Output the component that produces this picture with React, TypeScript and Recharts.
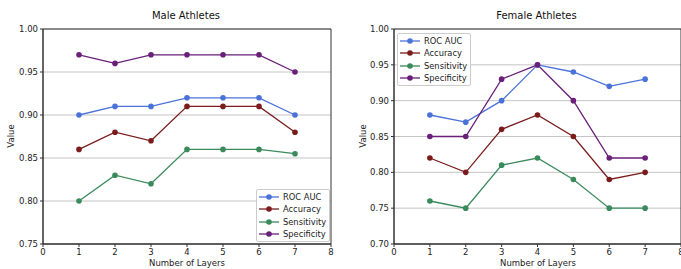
import { CartesianGrid, Line, LineChart, ReferenceArea, XAxis, YAxis } from "recharts";

const layers = [1, 2, 3, 4, 5, 6, 7];
const xTicks = [0, 1, 2, 3, 4, 5, 6, 7, 8];

const maleRoc = [0.9, 0.91, 0.91, 0.92, 0.92, 0.92, 0.9];
const maleAcc = [0.86, 0.88, 0.87, 0.91, 0.91, 0.91, 0.88];
const maleSens = [0.8, 0.83, 0.82, 0.86, 0.86, 0.86, 0.855];
const maleSpec = [0.97, 0.96, 0.97, 0.97, 0.97, 0.97, 0.95];
const maleYTicks = [0.75, 0.8, 0.85, 0.9, 0.95, 1.0];

const femaleRoc = [0.88, 0.87, 0.9, 0.95, 0.94, 0.92, 0.93];
const femaleAcc = [0.82, 0.8, 0.86, 0.88, 0.85, 0.79, 0.8];
const femaleSens = [0.76, 0.75, 0.81, 0.82, 0.79, 0.75, 0.75];
const femaleSpec = [0.85, 0.85, 0.93, 0.95, 0.9, 0.82, 0.82];
const femaleYTicks = [0.7, 0.75, 0.8, 0.85, 0.9, 0.95, 1.0];

const SERIES = [
  { key: "roc", name: "ROC AUC", color: "#4a72d9" },
  { key: "acc", name: "Accuracy", color: "#7b1c1c" },
  { key: "sens", name: "Sensitivity", color: "#3a8a5c" },
  { key: "spec", name: "Specificity", color: "#6a1f78" },
];

const FONT = "DejaVu Sans";
const SPINE = "#333";
const TICK = { fontSize: 8.5, fill: "#222", fontFamily: FONT };

function build(roc: number[], acc: number[], sens: number[], spec: number[]) {
  return layers.map((layer, i) => ({ layer, roc: roc[i], acc: acc[i], sens: sens[i], spec: spec[i] }));
}

function LegendBox({ left, top }: { left: number; top: number }) {
  return (
    <div
      style={{
        position: "absolute",
        left,
        top,
        border: "1px solid #ccc",
        borderRadius: 2,
        background: "rgba(255,255,255,0.85)",
        padding: "1px 3px 1px 2px",
        fontFamily: FONT,
        fontSize: 8.3,
        color: "#222",
      }}
    >
      {SERIES.map((s) => (
        <div key={s.key} style={{ display: "flex", alignItems: "center", height: 12.3 }}>
          <svg width={20} height={8} style={{ marginRight: 4 }}>
            <line x1={0} y1={4} x2={20} y2={4} stroke={s.color} strokeWidth={1.3} />
            <circle cx={10} cy={4} r={2.8} fill={s.color} />
          </svg>
          {s.name}
        </div>
      ))}
    </div>
  );
}

function Panel({
  title,
  data,
  yTicks,
  yAxisWidth,
  width,
  right,
}: {
  title: string;
  data: Record<string, number>[];
  yTicks: number[];
  yAxisWidth: number;
  width: number;
  right: number;
}) {
  return (
    <LineChart width={width} height={269} data={data} margin={{ top: 29, right, left: 0, bottom: 0 }}>
      <CartesianGrid vertical={false} stroke="#c4c4c4" strokeWidth={1} />
      <XAxis
        dataKey="layer"
        type="number"
        domain={[0, 8]}
        ticks={xTicks}
        tick={TICK}
        tickSize={3}
        height={25}
        stroke={SPINE}
        interval={0}
      />
      <YAxis
        type="number"
        domain={[yTicks[0], 1]}
        ticks={yTicks}
        tickFormatter={(v: number) => v.toFixed(2)}
        tick={TICK}
        tickSize={3}
        width={yAxisWidth}
        stroke={SPINE}
        interval={0}
      />
      <ReferenceArea x1={0} x2={8} y1={yTicks[0]} y2={1} fill="none" stroke={SPINE} strokeWidth={1} ifOverflow="visible" />
      <text x={(yAxisWidth + width - right) / 2 - 1} y={19} textAnchor="middle" fontFamily={FONT} fontSize={10} fill="#111">
        {title}
      </text>
      {SERIES.map((s) => (
        <Line
          key={s.key}
          dataKey={s.key}
          name={s.name}
          stroke={s.color}
          strokeWidth={1.3}
          dot={{ r: 2.8, fill: s.color, stroke: s.color, strokeWidth: 0 }}
          isAnimationActive={false}
        />
      ))}
    </LineChart>
  );
}

export default function App() {
  const label: React.CSSProperties = { position: "absolute", fontFamily: FONT, fontSize: 8.5, color: "#222" };
  return (
    <div style={{ position: "absolute", left: 0, top: 0, width: 681, height: 269, overflow: "hidden", background: "#fff" }}>
      <div style={{ position: "absolute", left: 0, top: 0 }}>
        <Panel
          title="Male Athletes"
          data={build(maleRoc, maleAcc, maleSens, maleSpec)}
          yTicks={maleYTicks}
          yAxisWidth={43}
          width={340}
          right={9}
        />
      </div>
      <div style={{ position: "absolute", left: 340, top: 0 }}>
        <Panel
          title="Female Athletes"
          data={build(femaleRoc, femaleAcc, femaleSens, femaleSpec)}
          yTicks={femaleYTicks}
          yAxisWidth={54}
          width={350}
          right={9}
        />
      </div>
      <LegendBox left={256} top={189} />
      <LegendBox left={397} top={33} />
      <div style={{ ...label, left: 187 - 40, top: 258, width: 80, textAlign: "center" }}>Number of Layers</div>
      <div style={{ ...label, left: 538 - 40, top: 258, width: 80, textAlign: "center" }}>Number of Layers</div>
      <div style={{ ...label, left: 11 - 15, top: 137 - 6, width: 30, textAlign: "center", transform: "rotate(-90deg)" }}>
        Value
      </div>
      <div style={{ ...label, left: 363 - 15, top: 137 - 6, width: 30, textAlign: "center", transform: "rotate(-90deg)" }}>
        Value
      </div>
    </div>
  );
}
